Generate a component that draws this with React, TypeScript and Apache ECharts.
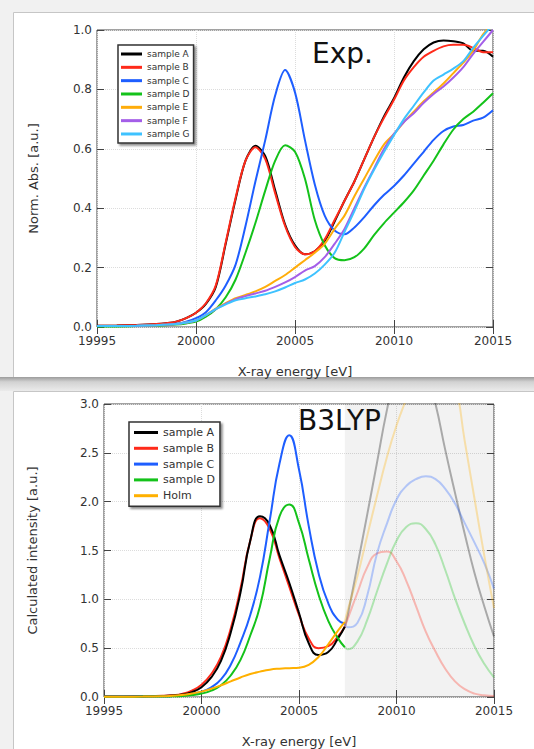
import React, { useEffect, useRef } from "react";
import * as echarts from "echarts";

// ---------- Experimental panel (Exp.) ----------
const expEnergy = [
  19995, 19996, 19997, 19998, 19998.5, 19999, 19999.5, 20000, 20000.5, 20001, 20001.5, 20002, 20002.5,
  20003, 20003.5, 20004, 20004.5, 20005, 20005.5, 20006, 20006.5, 20007, 20007.5, 20008, 20008.5,
  20009, 20009.5, 20010, 20010.5, 20011, 20011.5, 20012, 20012.5, 20013, 20013.5, 20014, 20014.5, 20015,
];
const expSampleA = [
  0.004, 0.005, 0.007, 0.01, 0.013, 0.018, 0.03, 0.048, 0.078, 0.135, 0.28, 0.43, 0.56, 0.61, 0.575, 0.46,
  0.345, 0.275, 0.245, 0.255, 0.29, 0.355, 0.425, 0.49, 0.565, 0.64, 0.71, 0.77, 0.84, 0.895, 0.935, 0.958,
  0.965, 0.962, 0.955, 0.93, 0.93, 0.91,
];
const expSampleB = [
  0.004, 0.005, 0.007, 0.01, 0.013, 0.018, 0.03, 0.048, 0.08, 0.14, 0.285, 0.435, 0.56, 0.605, 0.565, 0.45,
  0.34, 0.27, 0.245, 0.255, 0.295, 0.36, 0.425, 0.49, 0.565, 0.64, 0.705, 0.765, 0.83, 0.875, 0.91, 0.93,
  0.945, 0.95, 0.95, 0.94, 0.925, 0.925,
];
const expSampleC = [
  0.003, 0.003, 0.004, 0.006, 0.008, 0.011, 0.018, 0.03, 0.05, 0.09, 0.14, 0.21, 0.34, 0.49, 0.63, 0.78,
  0.865, 0.79, 0.63, 0.48, 0.375, 0.325, 0.312, 0.335, 0.37, 0.41, 0.445, 0.475, 0.51, 0.55, 0.59, 0.63,
  0.66, 0.675, 0.68, 0.695, 0.705, 0.73,
];
const expSampleD = [
  0.002, 0.002, 0.003, 0.005, 0.006, 0.008, 0.012, 0.018, 0.035, 0.06, 0.1, 0.16, 0.25, 0.35, 0.46, 0.56,
  0.612, 0.59, 0.5, 0.36, 0.275, 0.232, 0.225, 0.235, 0.265, 0.31, 0.35, 0.385, 0.42, 0.46, 0.51, 0.56,
  0.615, 0.665, 0.7, 0.725, 0.755, 0.787,
];
const expSampleE = [
  0.003, 0.003, 0.004, 0.006, 0.008, 0.01, 0.015, 0.022, 0.04, 0.062, 0.08, 0.097, 0.108, 0.12, 0.135, 0.155,
  0.175, 0.2, 0.225, 0.25, 0.28, 0.33, 0.375, 0.44, 0.5, 0.56, 0.615, 0.65, 0.69, 0.725, 0.76, 0.79,
  0.82, 0.855, 0.89, 0.93, 0.985, 1.02,
];
const expSampleF = [
  0.003, 0.003, 0.004, 0.006, 0.008, 0.01, 0.015, 0.022, 0.04, 0.06, 0.078, 0.094, 0.104, 0.113, 0.122, 0.135,
  0.15, 0.168, 0.19, 0.205, 0.235, 0.28, 0.33, 0.4, 0.47, 0.535, 0.6, 0.65, 0.69, 0.72, 0.755, 0.785,
  0.81, 0.84, 0.875, 0.92, 0.96, 1.0,
];
const expSampleG = [
  0.003, 0.003, 0.004, 0.006, 0.008, 0.01, 0.015, 0.022, 0.04, 0.06, 0.076, 0.09, 0.097, 0.103, 0.11, 0.12,
  0.133, 0.148, 0.16, 0.18, 0.21, 0.25, 0.32, 0.39, 0.465, 0.53, 0.59, 0.646, 0.7, 0.745, 0.79, 0.83,
  0.85, 0.87, 0.895, 0.94, 0.98, 1.02,
];

// ---------- Calculated panel (B3LYP) ----------
const shadeStart = 20007.35;
const calcEnergy = [
  19995, 19996, 19997, 19998, 19998.5, 19999, 19999.5, 20000, 20000.5, 20001, 20001.5, 20002, 20002.5,
  20003, 20003.5, 20004, 20004.5, 20005, 20005.5, 20006, 20006.5, 20007, 20007.35,
];
const calcSampleA = [
  0.004, 0.005, 0.006, 0.01, 0.015, 0.025, 0.05, 0.1, 0.2, 0.37, 0.66, 1.07, 1.6, 1.85, 1.76, 1.45, 1.17,
  0.86, 0.55, 0.43, 0.46, 0.6, 0.72,
];
const calcSampleB = [
  0.005, 0.006, 0.008, 0.012, 0.018, 0.032, 0.065, 0.125, 0.235, 0.41, 0.7, 1.11, 1.6, 1.83, 1.72, 1.42, 1.13,
  0.84, 0.6, 0.5, 0.52, 0.62, 0.72,
];
const calcSampleC = [
  0.003, 0.004, 0.005, 0.006, 0.009, 0.015, 0.03, 0.055, 0.1, 0.18, 0.33, 0.56, 0.84, 1.23, 1.81, 2.39, 2.68,
  2.33, 1.75, 1.27, 0.96, 0.79, 0.75,
];
const calcSampleD = [
  0.002, 0.003, 0.004, 0.005, 0.007, 0.01, 0.02, 0.035, 0.065, 0.12, 0.22, 0.38, 0.63, 0.93, 1.42, 1.85, 1.97,
  1.78, 1.41, 1.05, 0.78, 0.6, 0.51,
];
const calcHolm = [
  0.002, 0.003, 0.004, 0.008, 0.013, 0.02, 0.035, 0.055, 0.085, 0.12, 0.16, 0.2, 0.235, 0.26, 0.28, 0.29, 0.295,
  0.3, 0.33, 0.41, 0.54, 0.68, 0.77,
];
// faded continuation beyond shadeStart
const fadeEnergy = [
  20007.35, 20007.5, 20008, 20008.5, 20009, 20009.5, 20010, 20010.5, 20011, 20011.5, 20012, 20012.5, 20013,
  20013.5, 20014, 20014.5, 20015,
];
const fadeSampleA = [0.72, 0.84, 1.35, 1.87, 2.4, 2.93, 3.35, 3.6, 3.6, 3.35, 3.0, 2.53, 2.09, 1.67, 1.27, 0.93, 0.62];
const fadeSampleB = [0.72, 0.8, 1.07, 1.33, 1.47, 1.49, 1.39, 1.19, 0.93, 0.67, 0.465, 0.29, 0.16, 0.08, 0.035, 0.018, 0.01];
const fadeSampleC = [0.75, 0.715, 0.76, 1.04, 1.47, 1.77, 2.02, 2.16, 2.23, 2.26, 2.23, 2.13, 1.98, 1.78, 1.58, 1.37, 1.11];
const fadeSampleD = [0.51, 0.49, 0.57, 0.79, 1.08, 1.36, 1.6, 1.74, 1.78, 1.72, 1.56, 1.3, 1.01, 0.75, 0.52, 0.34, 0.2];
const fadeHolm = [0.77, 0.89, 1.24, 1.65, 2.06, 2.45, 2.78, 3.05, 3.3, 3.45, 3.5, 3.45, 3.22, 2.62, 2.03, 1.45, 0.91];

const expLegend = ["sample A", "sample B", "sample C", "sample D", "sample E", "sample F", "sample G"];
const calcLegend = ["sample A", "sample B", "sample C", "sample D", "Holm"];

const COLORS: Record<string, string> = {
  "sample A": "#000000",
  "sample B": "#ff2a1a",
  "sample C": "#1e5eff",
  "sample D": "#14c21a",
  "sample E": "#ffad0a",
  "sample F": "#a45ee8",
  "sample G": "#3ec2ff",
  Holm: "#ffb000",
};

const FONT = "'DejaVu Sans', sans-serif";

const zip = (xs: number[], ys: number[]) => xs.map((x, i) => [x, ys[i]]);

function lineSeries(name: string, xs: number[], ys: number[], axis: number, smooth: number, opacity = 1, seriesName?: string) {
  return {
    type: "line",
    name: seriesName ?? name,
    data: zip(xs, ys),
    xAxisIndex: axis,
    yAxisIndex: axis,
    symbol: "none",
    smooth,
    clip: true,
    lineStyle: { color: COLORS[name], width: 2, opacity },
    itemStyle: { color: COLORS[name] },
    emphasis: { disabled: true },
  };
}

function axisPair(gridIndex: number, min: number, max: number, interval: number, isX: boolean, nameTxt: string, nameGap: number) {
  const common = {
    type: "value",
    gridIndex,
    min,
    max,
    interval,
    axisLine: { show: false },
    axisTick: { show: true, inside: true, length: 7, lineStyle: { color: "#444", width: 1 } },
    splitLine: { show: false },
  };
  const main = {
    ...common,
    position: isX ? "bottom" : "left",
    name: nameTxt,
    nameLocation: "middle",
    nameGap,
    nameTextStyle: { fontSize: 13, color: "#333", fontFamily: FONT },
    axisLabel: {
      show: true,
      fontSize: 12,
      color: "#333",
      fontFamily: FONT,
      margin: isX ? 8 : 5,
      formatter: (v: number) => (isX ? String(v) : v.toFixed(1)),
    },
    splitLine: { show: true, lineStyle: { color: "#dcdcdc", type: "dotted", width: 1 } },
  };
  const mirror = {
    ...common,
    position: isX ? "top" : "right",
    axisLabel: { show: false },
  };
  return [main, mirror];
}

export default function App() {
  const ref = useRef<HTMLDivElement>(null);

  useEffect(() => {
    if (!ref.current) return;
    const chart = echarts.init(ref.current, undefined, { renderer: "svg" });

    const [xTopMain, xTopMirror] = axisPair(0, 19995, 20015, 5, true, "X-ray energy [eV]", 38);
    const [xBotMain, xBotMirror] = axisPair(1, 19995, 20015, 5, true, "X-ray energy [eV]", 38);
    const [yTopMain, yTopMirror] = axisPair(0, 0, 1, 0.2, false, "Norm. Abs. [a.u.]", 57);
    const [yBotMain, yBotMirror] = axisPair(1, 0, 3, 0.5, false, "Calculated intensity [a.u.]", 65);

    const legendBase = {
      orient: "vertical",
      icon: "rect",
      selectedMode: false,
      backgroundColor: "#ffffff",
      borderColor: "#333333",
      borderWidth: 1.5,
      borderRadius: 0,
      shadowColor: "rgba(0,0,0,0.45)",
      shadowBlur: 2,
      shadowOffsetX: 2,
      shadowOffsetY: 2,
    };

    const option: any = {
      animation: false,
      backgroundColor: "#f1f1f1",
      grid: [
        { left: 97, top: 30, width: 396, height: 297, show: true, borderColor: "#444", borderWidth: 1, backgroundColor: "transparent" },
        { left: 104, top: 404, width: 390, height: 299, show: true, borderColor: "#444", borderWidth: 1, backgroundColor: "transparent" },
      ],
      xAxis: [xTopMain, xBotMain, xTopMirror, xBotMirror],
      yAxis: [yTopMain, yBotMain, yTopMirror, yBotMirror],
      legend: [
        {
          ...legendBase,
          data: expLegend,
          left: 118,
          top: 45,
          itemWidth: 21,
          itemHeight: 3,
          itemGap: 2.33,
          padding: [3.5, 4, 3.5, 3],
          textStyle: { fontSize: 9, lineHeight: 11, color: "#333", fontFamily: FONT },
        },
        {
          ...legendBase,
          data: calcLegend,
          left: 129,
          top: 422,
          itemWidth: 24,
          itemHeight: 3,
          itemGap: 2.8,
          padding: [4, 5, 4, 5],
          textStyle: { fontSize: 11, lineHeight: 13, color: "#333", fontFamily: FONT },
        },
      ],
      graphic: [
        { type: "rect", z: -100, shape: { x: 13.5, y: 12.5, width: 560, height: 365 }, style: { fill: "#ffffff", stroke: "#c6c6c6", lineWidth: 1 } },
        {
          type: "rect",
          z: -100,
          shape: { x: 0, y: 377, width: 534, height: 14 },
          style: {
            fill: new echarts.graphic.LinearGradient(0, 0, 0, 1, [
              { offset: 0, color: "#9c9c9c" },
              { offset: 0.35, color: "#d2d2d2" },
              { offset: 1, color: "#ebebeb" },
            ]),
          },
        },
        { type: "rect", z: -100, shape: { x: 13.5, y: 391.5, width: 560, height: 400 }, style: { fill: "#ffffff", stroke: "#c6c6c6", lineWidth: 1 } },
        { type: "text", z: 10, x: 312, y: 39, style: { text: "Exp.", fontSize: 28, fontFamily: FONT, fill: "#111", align: "left", verticalAlign: "top" } },
        { type: "text", z: 10, x: 298, y: 406, style: { text: "B3LYP", fontSize: 28, fontFamily: FONT, fill: "#111", align: "left", verticalAlign: "top" } },
      ],
      series: [
        lineSeries("sample A", expEnergy, expSampleA, 0, 0.3),
        lineSeries("sample B", expEnergy, expSampleB, 0, 0.3),
        lineSeries("sample C", expEnergy, expSampleC, 0, 0.3),
        lineSeries("sample D", expEnergy, expSampleD, 0, 0.3),
        lineSeries("sample E", expEnergy, expSampleE, 0, 0.3),
        lineSeries("sample F", expEnergy, expSampleF, 0, 0.3),
        lineSeries("sample G", expEnergy, expSampleG, 0, 0.3),
        {
          ...lineSeries("sample A", fadeEnergy, fadeSampleA, 1, 0.5, 0.3, "sample A (beyond)"),
          markArea: {
            silent: true,
            itemStyle: { color: "rgba(0,0,0,0.05)" },
            data: [[{ xAxis: shadeStart }, { xAxis: 20015 }]],
          },
        },
        lineSeries("sample B", fadeEnergy, fadeSampleB, 1, 0.5, 0.3, "sample B (beyond)"),
        lineSeries("sample C", fadeEnergy, fadeSampleC, 1, 0.5, 0.3, "sample C (beyond)"),
        lineSeries("sample D", fadeEnergy, fadeSampleD, 1, 0.5, 0.3, "sample D (beyond)"),
        lineSeries("Holm", fadeEnergy, fadeHolm, 1, 0.5, 0.3, "Holm (beyond)"),
        lineSeries("sample B", calcEnergy, calcSampleB, 1, 0.5),
        lineSeries("sample A", calcEnergy, calcSampleA, 1, 0.5),
        lineSeries("sample C", calcEnergy, calcSampleC, 1, 0.5),
        lineSeries("sample D", calcEnergy, calcSampleD, 1, 0.5),
        lineSeries("Holm", calcEnergy, calcHolm, 1, 0.5),
      ],
    };

    chart.setOption(option);
    return () => chart.dispose();
  }, []);

  return (
    <div
      ref={ref}
      style={{ position: "absolute", left: 0, top: 0, width: 534, height: 749 }}
    />
  );
}
